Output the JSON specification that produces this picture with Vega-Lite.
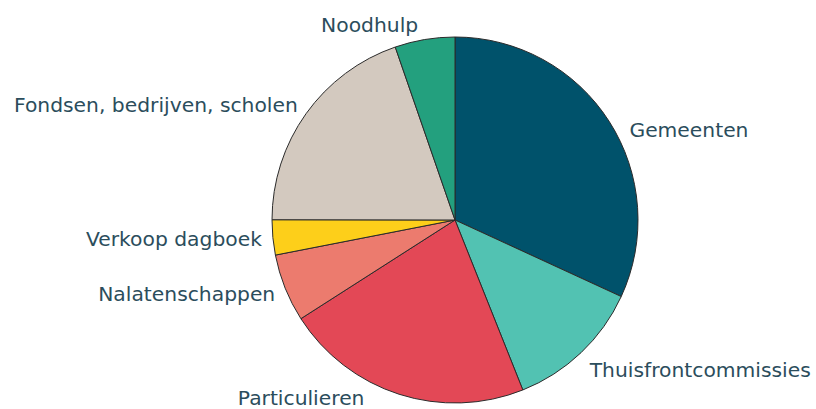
{
  "$schema": "https://vega.github.io/schema/vega-lite/v6.json",
  "width": 366,
  "height": 366,
  "autosize": "none",
  "padding": {"left": 272, "top": 37, "right": 178, "bottom": 6},
  "background": "white",
  "config": {"view": {"stroke": null}},
  "data": {
    "values": [
      {"bron": "Gemeenten", "waarde": 31.9, "volgorde": 1, "kant": "boven-rechts"},
      {"bron": "Thuisfrontcommissies", "waarde": 12.1, "volgorde": 2, "kant": "rechts"},
      {"bron": "Particulieren", "waarde": 22.0, "volgorde": 3, "kant": "onder"},
      {"bron": "Nalatenschappen", "waarde": 6.0, "volgorde": 4, "kant": "links"},
      {"bron": "Verkoop dagboek", "waarde": 3.1, "volgorde": 5, "kant": "links"},
      {"bron": "Fondsen, bedrijven, scholen", "waarde": 19.7, "volgorde": 6, "kant": "links"},
      {"bron": "Noodhulp", "waarde": 5.3, "volgorde": 7, "kant": "boven"}
    ]
  },
  "encoding": {
    "theta": {"field": "waarde", "type": "quantitative", "stack": true},
    "order": {"field": "volgorde", "type": "quantitative"}
  },
  "layer": [
    {
      "mark": {"type": "arc", "stroke": "#2b2b2b", "strokeWidth": 1, "outerRadius": 183},
      "encoding": {
        "color": {
          "field": "bron",
          "type": "nominal",
          "legend": null,
          "scale": {
            "domain": ["Gemeenten", "Thuisfrontcommissies", "Particulieren", "Nalatenschappen", "Verkoop dagboek", "Fondsen, bedrijven, scholen", "Noodhulp"],
            "range": ["#00526b", "#52c2b2", "#e34856", "#ec7b6e", "#fdcf1a", "#d3c9bf", "#23a07e"]
          }
        }
      }
    },
    {
      "mark": {"type": "text", "radius": 200, "align": "left", "baseline": "middle", "dx": 6, "dy": 19, "font": "DejaVu Sans", "fontSize": 20.3, "color": "#2b4d5c"},
      "encoding": {"text": {"condition": {"test": "datum.kant === 'boven-rechts'", "field": "bron"}, "value": ""}}
    },
    {
      "mark": {"type": "text", "radius": 200, "align": "left", "baseline": "middle", "dx": -3, "dy": 6, "font": "DejaVu Sans", "fontSize": 20.3, "color": "#2b4d5c"},
      "encoding": {"text": {"condition": {"test": "datum.kant === 'rechts'", "field": "bron"}, "value": ""}}
    },
    {
      "mark": {"type": "text", "radius": 198, "align": "right", "baseline": "middle", "dx": 4, "dy": 1, "font": "DejaVu Sans", "fontSize": 20.3, "color": "#2b4d5c"},
      "encoding": {"text": {"condition": {"test": "datum.kant === 'links'", "field": "bron"}, "value": ""}}
    },
    {
      "mark": {"type": "text", "radius": 198, "align": "right", "baseline": "middle", "dx": -4, "dy": 1, "font": "DejaVu Sans", "fontSize": 20.3, "color": "#2b4d5c"},
      "encoding": {"text": {"condition": {"test": "datum.kant === 'boven'", "field": "bron"}, "value": ""}}
    },
    {
      "mark": {"type": "text", "radius": 198, "align": "right", "baseline": "middle", "dx": -30, "dy": -10, "font": "DejaVu Sans", "fontSize": 20.3, "color": "#2b4d5c"},
      "encoding": {"text": {"condition": {"test": "datum.kant === 'onder'", "field": "bron"}, "value": ""}}
    }
  ]
}
